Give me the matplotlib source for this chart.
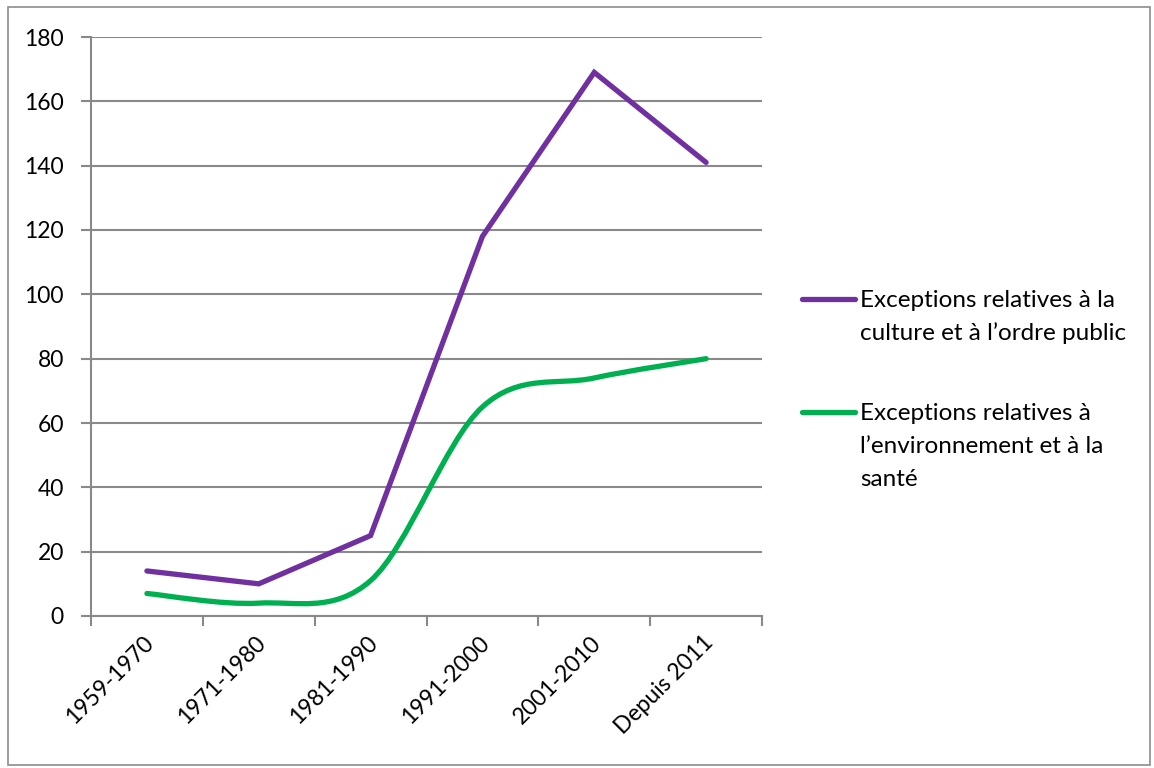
import matplotlib
matplotlib.use("Agg")
import matplotlib.pyplot as plt
from matplotlib.path import Path
from matplotlib.patches import PathPatch, Rectangle
from matplotlib.lines import Line2D
from matplotlib.transforms import ScaledTranslation
import numpy as np

periods = ["1959-1970", "1971-1980", "1981-1990", "1991-2000", "2001-2010", "Depuis 2011"]
culture_ordre_public = [14, 10, 25, 118, 169, 141]
environnement_sante = [7, 4, 11, 65, 74, 80]
y_ticks = [0, 20, 40, 60, 80, 100, 120, 140, 160, 180]

label_culture = ["Exceptions relatives à la", "culture et à l\u2019ordre public"]
label_env = ["Exceptions relatives à", "l\u2019environnement et à la", "santé"]

PURPLE = "#7030A0"
GREEN = "#00B050"
GRID = "#898989"
FONT = "Lato"
TICK_SIZE = 16.5
LEGEND_SIZE = 17.5

W, H = 1154, 768
fig = plt.figure(figsize=(W / 100, H / 100), dpi=100)

# outer chart border
fig.add_artist(Rectangle((8 / W, 1 - 765 / H), (1150 - 8) / W, (765 - 7) / H,
                         transform=fig.transFigure, fill=False,
                         edgecolor="#8c8c8c", linewidth=1.2))

left, right, top, bottom = 91, 762, 37, 616
ax = fig.add_axes([left / W, 1 - bottom / H, (right - left) / W, (bottom - top) / H])
ax.set_xlim(-0.5, len(periods) - 0.5)
ax.set_ylim(0, 180)

for s in ["top", "right"]:
    ax.spines[s].set_visible(False)
for s in ["left", "bottom"]:
    ax.spines[s].set_color(GRID)
    ax.spines[s].set_linewidth(1.5)

ax.set_yticks(y_ticks)
ax.set_yticklabels([str(v) for v in y_ticks], fontsize=TICK_SIZE, fontfamily=FONT)
ax.yaxis.grid(True, color=GRID, linewidth=1.5)
ax.set_axisbelow(True)
ax.tick_params(axis="y", length=7, width=1.5, color=GRID, pad=12.5)

# category boundaries carry the tick marks; labels sit at the category centres
x = np.arange(len(periods))
ax.set_xticks(np.arange(-0.5, len(periods)), minor=False)
ax.set_xticklabels([])
ax.tick_params(axis="x", which="major", length=7, width=1.5, color=GRID)
ax.set_xticks(x, minor=True)
ax.tick_params(axis="x", which="minor", length=0, pad=11.7)
ax.set_xticklabels(periods, minor=True, rotation=45, ha="right", va="top",
                   rotation_mode="anchor", fontsize=TICK_SIZE, fontfamily=FONT)
shift = ScaledTranslation(-4 / 100, 0, fig.dpi_scale_trans)
for lab in ax.get_xticklabels(minor=True):
    lab.set_transform(lab.get_transform() + shift)

# straight series
ax.plot(x, culture_ordre_public, color=PURPLE, linewidth=3.8,
        solid_capstyle="round", solid_joinstyle="miter", zorder=3)

# smoothed series (cubic Bezier through each point, Excel-style)
def smooth_path(xs, ys):
    pts = np.column_stack([xs, ys]).astype(float)
    n = len(pts)
    verts = [pts[0]]
    codes = [Path.MOVETO]
    for i in range(n - 1):
        p0 = pts[i - 1] if i > 0 else pts[i]
        p1 = pts[i]
        p2 = pts[i + 1]
        p3 = pts[i + 2] if i + 2 < n else pts[i + 1]
        c1 = p1 + (p2 - p0) / 6.0
        c2 = p2 - (p3 - p1) / 6.0
        verts += [c1, c2, p2]
        codes += [Path.CURVE4] * 3
    return Path(verts, codes)

ax.add_patch(PathPatch(smooth_path(x, environnement_sante), facecolor="none",
                       edgecolor=GREEN, linewidth=3.8, capstyle="round", zorder=3))

# legend: line sample followed by the wrapped entry text, one baseline per row
LINE_STEP = 33
for ly, color, lines in [(299, PURPLE, label_culture), (412, GREEN, label_env)]:
    fig.add_artist(Line2D([802 / W, 855 / W], [1 - ly / H, 1 - ly / H],
                          transform=fig.transFigure, color=color, linewidth=3.8,
                          solid_capstyle="round"))
    for k, line in enumerate(lines):
        base = ly + 8 + k * LINE_STEP
        fig.text(860 / W, 1 - base / H, line, ha="left", va="baseline",
                 fontsize=LEGEND_SIZE, fontfamily=FONT)

fig.savefig("out.png", dpi=100)
